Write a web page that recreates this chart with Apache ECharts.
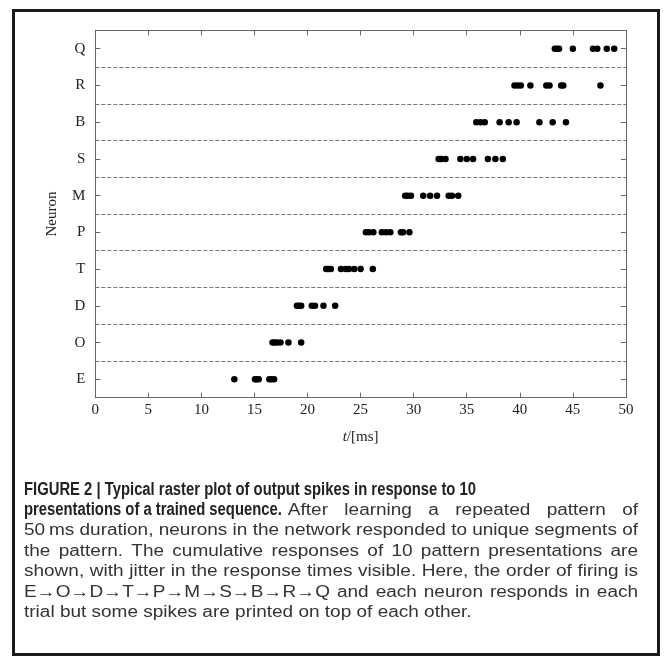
<!DOCTYPE html>
<html>
<head>
<meta charset="utf-8">
<script src="https://cdn.jsdelivr.net/npm/echarts@6/dist/echarts.min.js"></script>
<style>
html,body{margin:0;padding:0;background:#fff;}
#chart{width:671px;height:664px;}
</style>
</head>
<body>
<div id="chart"></div>
<script>
// ---- data ----
const neurons = ['E', 'O', 'D', 'T', 'P', 'M', 'S', 'B', 'R', 'Q'];
const spikesE = [13.1, 15.05, 15.2, 15.4, 16.4, 16.6, 16.85];
const spikesO = [16.7, 16.9, 17.1, 17.45, 18.2, 19.4];
const spikesD = [19.0, 19.2, 19.4, 20.4, 20.7, 21.5, 22.6];
const spikesT = [21.75, 21.95, 22.2, 23.15, 23.6, 23.9, 24.4, 25.0, 26.15];
const spikesP = [25.5, 25.8, 26.2, 27.0, 27.4, 27.8, 28.8, 29.0, 29.6];
const spikesM = [29.2, 29.45, 29.75, 30.9, 31.55, 32.2, 33.3, 33.6, 34.2];
const spikesS = [32.35, 32.6, 33.0, 34.4, 35.0, 35.6, 37.0, 37.7, 38.4];
const spikesB = [35.9, 36.3, 36.7, 38.1, 38.95, 39.7, 41.85, 43.1, 44.35];
const spikesR = [39.5, 39.8, 40.1, 41.0, 42.5, 42.8, 43.9, 44.1, 47.6];
const spikesQ = [43.3, 43.5, 43.7, 45.0, 46.9, 47.3, 48.2, 48.9];
const xTicks = [0, 5, 10, 15, 20, 25, 30, 35, 40, 45, 50];

const spikeSets = {E: spikesE, O: spikesO, D: spikesD, T: spikesT, P: spikesP,
  M: spikesM, S: spikesS, B: spikesB, R: spikesR, Q: spikesQ};

const captionBold1 = 'FIGURE 2 | Typical raster plot of output spikes in response to 10';
const captionBold2 = 'presentations of a trained sequence.';
const captionLines = [
  'After learning a repeated pattern of',
  '50\u2009ms duration, neurons in the network responded to unique segments of',
  'the pattern. The cumulative responses of 10 pattern presentations are',
  'shown, with jitter in the response times visible. Here, the order of firing is',
  'E\u2192O\u2192D\u2192T\u2192P\u2192M\u2192S\u2192B\u2192R\u2192Q and each neuron responds in each',
  'trial but some spikes are printed on top of each other.'
];

// ---- build ----
const scatterData = [];
neurons.forEach(n => spikeSets[n].forEach(t => scatterData.push([t, n])));

const serif = '"Liberation Serif", "DejaVu Serif", serif';
const axisCol = '#666';

const sansFam = '"Liberation Sans", "Noto Sans", sans-serif';
const boldSize = 17.5, regSize = 16;
const mctx = document.createElement('canvas').getContext('2d');
function tw(text, bold, size) {
  mctx.font = (bold ? 'bold ' : '') + size + 'px ' + sansFam;
  return mctx.measureText(text).width;
}
const capLeft = 24, capRight = 638, capTop = 490, capStep = 20.5;
const sb = 452 / tw(captionBold1, true, boldSize);
const b2w = tw(captionBold2, true, boldSize) * sb;
const r2x = capLeft + b2w + 6;
// scale regular text so the tightest justified line fits with normal spacing
let sr = (capRight - r2x) / tw(captionLines[0], false, regSize);
for (let i = 1; i < captionLines.length - 1; i++) {
  sr = Math.min(sr, (capRight - capLeft) / tw(captionLines[i], false, regSize));
}
function txt(x, y, text, bold, size, sx, color) {
  return {type: 'text', x: x, y: y, scaleX: sx, silent: true,
    style: {text: text, fontFamily: sansFam, fontWeight: bold ? 'bold' : 'normal',
      fontSize: size, fill: color, verticalAlign: 'middle', align: 'left'}};
}
function justified(x0, x1, y, line, out) {
  const words = line.split(' ');
  const widths = words.map(w => tw(w, false, regSize) * sr);
  const total = widths.reduce((a, b) => a + b, 0);
  const gap = (x1 - x0 - total) / (words.length - 1);
  let x = x0;
  words.forEach((w, k) => {
    out.push(txt(x, y, w, false, regSize, sr, '#333'));
    x += widths[k] + gap;
  });
}
const capGraphics = [];
capGraphics.push(txt(capLeft, capTop, captionBold1, true, boldSize, sb, '#222'));
capGraphics.push(txt(capLeft, capTop + capStep, captionBold2, true, boldSize, sb, '#222'));
justified(r2x, capRight, capTop + capStep, captionLines[0], capGraphics);
for (let i = 1; i < captionLines.length - 1; i++) {
  justified(capLeft, capRight, capTop + capStep * (i + 1), captionLines[i], capGraphics);
}
capGraphics.push(txt(capLeft, capTop + capStep * captionLines.length,
  captionLines[captionLines.length - 1], false, regSize, sr, '#333'));

const chart = echarts.init(document.getElementById('chart'), null, {renderer: 'canvas'});
chart.setOption({
  animation: false,
  backgroundColor: '#fff',
  grid: {left: 95.3, top: 30.3, right: 45.1, bottom: 266.3, containLabel: false},
  xAxis: [{
    type: 'value', min: 0, max: 50, interval: 5, position: 'bottom',
    axisLine: {show: true, onZero: false, lineStyle: {color: axisCol, width: 1}},
    axisTick: {show: true, inside: true, length: 5, lineStyle: {color: axisCol}},
    axisLabel: {margin: 5, fontFamily: serif, fontSize: 15, color: '#222',
      formatter: v => xTicks.includes(v) ? String(v) : ''},
    splitLine: {show: false},
    name: '{i|t}/[ms]', nameLocation: 'middle', nameGap: 32,
    nameTextStyle: {fontFamily: serif, fontSize: 15, color: '#222',
      rich: {i: {fontFamily: serif, fontStyle: 'italic', fontSize: 15, color: '#222'}}}
  }, {
    type: 'value', min: 0, max: 50, interval: 5, position: 'top',
    axisLine: {show: true, onZero: false, lineStyle: {color: axisCol, width: 1}},
    axisTick: {show: true, inside: true, length: 5, lineStyle: {color: axisCol}},
    axisLabel: {show: false}, splitLine: {show: false}
  }],
  yAxis: [{
    type: 'category', data: neurons, position: 'left', boundaryGap: true,
    axisLine: {show: true, onZero: false, lineStyle: {color: axisCol, width: 1}},
    axisTick: {show: true, inside: true, length: 5, alignWithLabel: true, lineStyle: {color: axisCol}},
    axisLabel: {margin: 10, fontFamily: serif, fontSize: 15, color: '#222'},
    splitLine: {show: true, lineStyle: {color: '#777', type: [4, 2], width: 1}},
    name: 'Neuron', nameLocation: 'middle', nameGap: 36, nameRotate: 90,
    nameTextStyle: {fontFamily: serif, fontSize: 15, color: '#222'}
  }, {
    type: 'category', data: neurons, position: 'right', boundaryGap: true,
    axisLine: {show: true, onZero: false, lineStyle: {color: axisCol, width: 1}},
    axisTick: {show: true, inside: true, length: 5, alignWithLabel: true, lineStyle: {color: axisCol}},
    axisLabel: {show: false}, splitLine: {show: false}
  }],
  series: [{
    type: 'scatter', xAxisIndex: 0, yAxisIndex: 0,
    data: scatterData, symbol: 'circle', symbolSize: 6.5,
    itemStyle: {color: '#000', opacity: 1}, silent: true
  }],
  graphic: [{
    type: 'rect', shape: {x: 13.5, y: 10.5, width: 645, height: 644},
    style: {fill: 'none', stroke: '#1a1a1a', lineWidth: 3}, silent: true
  }].concat(capGraphics)
});
</script>
</body>
</html>
